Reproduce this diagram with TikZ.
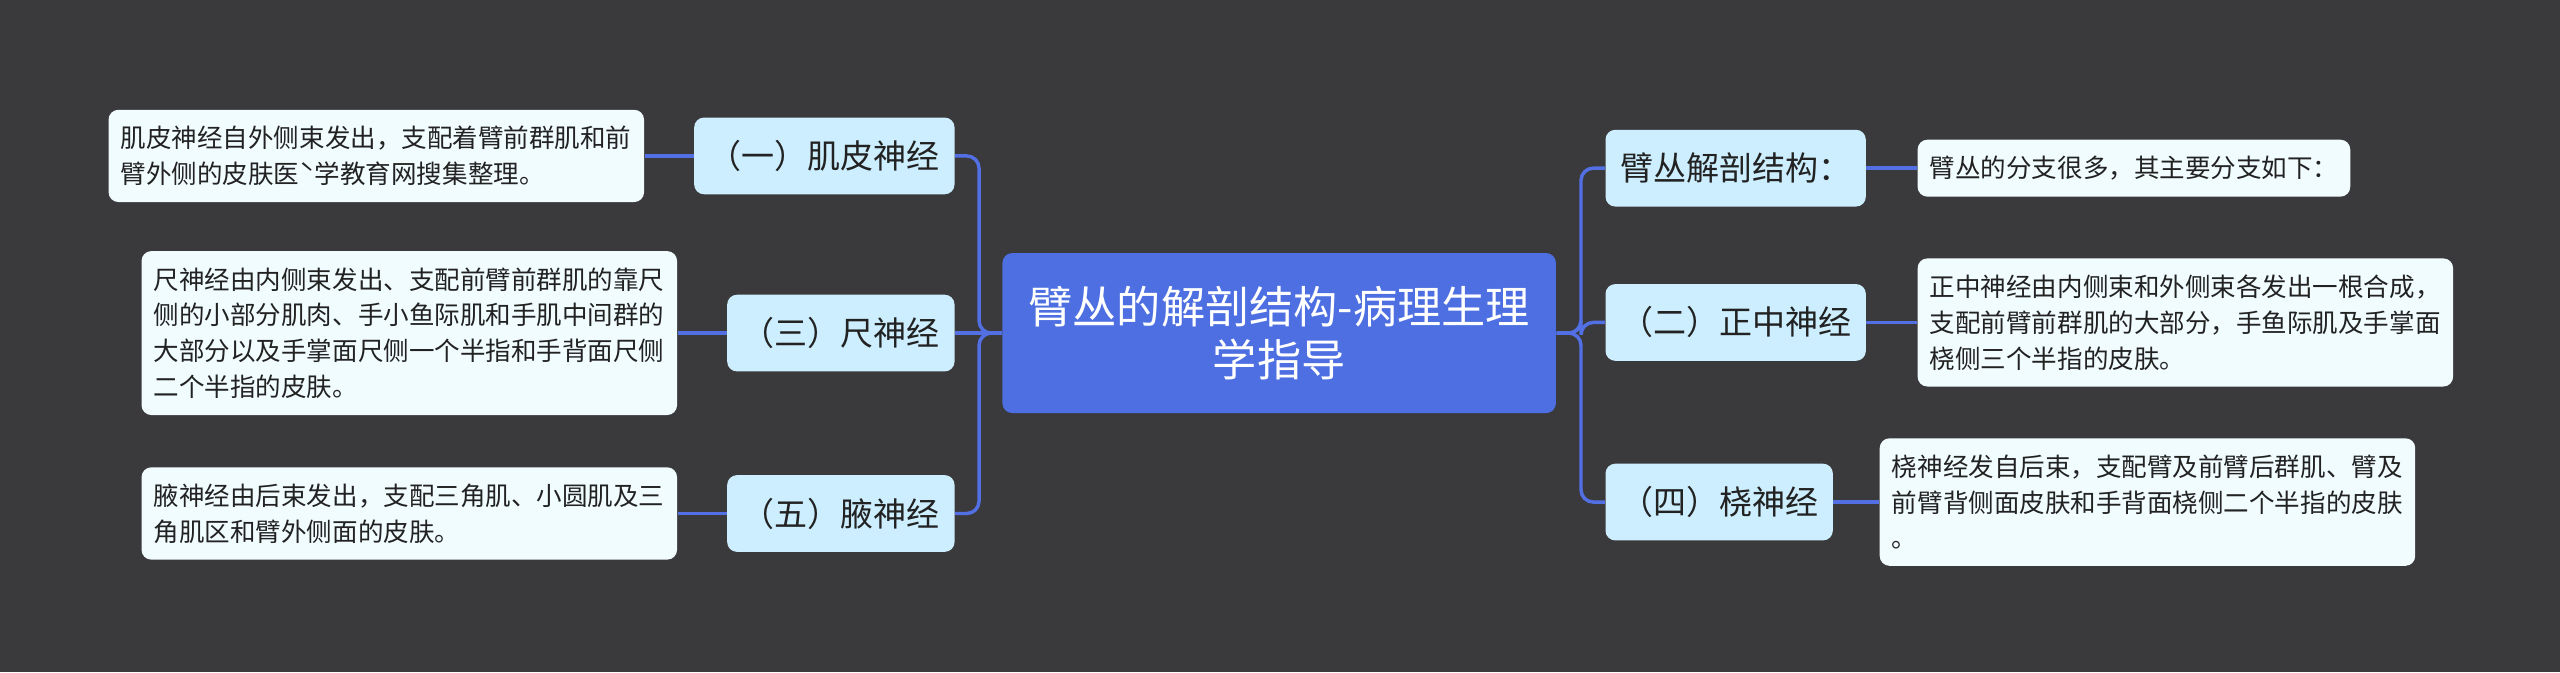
\documentclass[tikz,border=0pt]{standalone}
\usepackage{fontspec}
\setmainfont{Noto Sans CJK SC}
\usepackage{xcolor}
\usetikzlibrary{positioning}

\definecolor{bgcol}{RGB}{58,57,59}
\definecolor{rootblue}{RGB}{77,111,225}
\definecolor{branchblue}{RGB}{204,238,254}
\definecolor{notewhite}{RGB}{241,252,255}
\definecolor{linkblue}{RGB}{82,112,228}
\definecolor{textdark}{RGB}{34,34,34}

\begin{document}
\begin{tikzpicture}[
			root/.style={rectangle, fill=rootblue, text=white, rounded corners=0.12cm,
					minimum width=6.78cm, minimum height=1.96cm, align=center,
					font=\fontsize{15.4}{18.5}\selectfont},
			branch/.style={rectangle, fill=branchblue, text=textdark, rounded corners=0.12cm,
					minimum height=0.94cm, inner xsep=0.18cm, font=\fontsize{11.5}{14}\selectfont},
			note/.style={rectangle, fill=notewhite, text=textdark, rounded corners=0.12cm,
					text width=6.26cm, align=left, inner xsep=0.15cm, inner ysep=0.2cm,
					font=\fontsize{8.9}{12.5}\selectfont},
			link/.style={draw=linkblue, line width=1.2pt, rounded corners=0.15cm}]

		% Background
		\fill [bgcol] (0,0) rectangle (31.36,-8.232);

		% Define nodes
		\node [root] (plexus) at (15.67,-4.08) {臂丛的解剖结构-病理生理\\学指导};
		\node [branch, anchor=east] (musculo) at (11.7,-1.91) {（一）肌皮神经};
		\node [branch, anchor=east] (ulnar) at (11.7,-4.08) {（三）尺神经};
		\node [branch, anchor=east] (axillary) at (11.7,-6.29) {（五）腋神经};
		\node [branch, anchor=west] (overview) at (19.66,-2.06) {臂丛解剖结构：};
		\node [branch, anchor=west] (median) at (19.66,-3.95) {（二）正中神经};
		\node [branch, anchor=west] (radial) at (19.66,-6.15) {（四）桡神经};

		\node [note, left=0.6cm of musculo] (musculonote) {肌皮神经自外侧束发出，支配着臂前群肌和前\\臂外侧的皮肤医ˋ学教育网搜集整理。};
		\node [note, left=0.6cm of ulnar] (ulnarnote) {尺神经由内侧束发出、支配前臂前群肌的靠尺\\侧的小部分肌肉、手小鱼际肌和手肌中间群的\\大部分以及手掌面尺侧一个半指和手背面尺侧\\二个半指的皮肤。};
		\node [note, left=0.6cm of axillary] (axillarynote) {腋神经由后束发出，支配三角肌、小圆肌及三\\角肌区和臂外侧面的皮肤。};
		\node [note, text width=5.0cm, right=0.62cm of overview] (overviewnote) {臂丛的分支很多，其主要分支如下：};
		\node [note, right=0.62cm of median] (mediannote) {正中神经由内侧束和外侧束各发出一根合成，\\支配前臂前群肌的大部分，手鱼际肌及手掌面\\桡侧三个半指的皮肤。};
		\node [note, right=0.56cm of radial] (radialnote) {桡神经发自后束，支配臂及前臂后群肌、臂及\\前臂背侧面皮肤和手背面桡侧二个半指的皮肤\\。};

		% Draw connections
		\path [link] (plexus.west) -- ++(-0.28,0) |- (musculo.east);
		\path [link] (plexus.west) -- (ulnar.east);
		\path [link] (plexus.west) -- ++(-0.28,0) |- (axillary.east);
		\path [link] (plexus.east) -- ++(0.3,0) |- (overview.west);
		\path [link] (plexus.east) -- ++(0.3,0) |- (median.west);
		\path [link] (plexus.east) -- ++(0.3,0) |- (radial.west);

		\path [link] (musculo.west) -- (musculonote.east);
		\path [link] (ulnar.west) -- (ulnarnote.east);
		\path [link] (axillary.west) -- (axillarynote.east);
		\path [link] (overview.east) -- (overviewnote.west);
		\path [link] (median.east) -- (mediannote.west);
		\path [link] (radial.east) -- (radialnote.west);

	\end{tikzpicture}
\end{document}
